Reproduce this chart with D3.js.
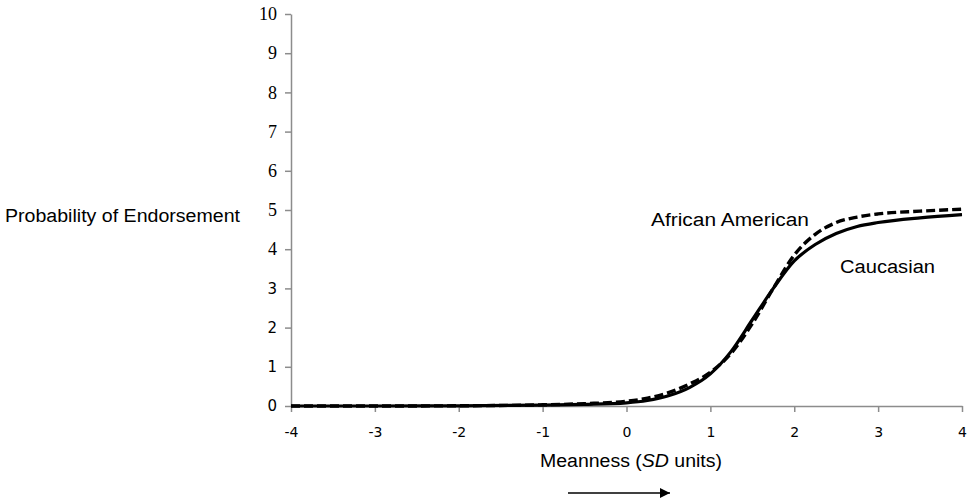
<!DOCTYPE html>
<html>
<head>
<meta charset="utf-8">
<script src="https://cdn.jsdelivr.net/npm/d3@7"></script>
<style>
html, body { margin: 0; padding: 0; background: #fff; }
svg { display: block; }
</style>
</head>
<body>
<svg id="chart" width="968" height="502"></svg>
<script>
// ---- data ----
const xTicks = [-4, -3, -2, -1, 0, 1, 2, 3, 4];
const yTicks = [0, 1, 2, 3, 4, 5, 6, 7, 8, 9, 10];
const meanness = [-4, -3, -2, -1, -0.5, 0, 0.25, 0.5, 0.75, 1, 1.25, 1.5, 1.75, 2, 2.25, 2.5, 2.75, 3, 3.5, 4];
const caucasian = [0, 0, 0.005, 0.02, 0.04, 0.08, 0.14, 0.26, 0.47, 0.82, 1.4, 2.2, 3.0, 3.7, 4.12, 4.4, 4.58, 4.68, 4.8, 4.88];
const africanAmerican = [0, 0, 0.005, 0.03, 0.06, 0.12, 0.2, 0.34, 0.56, 0.86, 1.35, 2.1, 3.0, 3.85, 4.38, 4.68, 4.82, 4.9, 4.97, 5.02];
const yTitle = "Probability of Endorsement";
const xTitleMain = "Meanness (";
const xTitleItalic = "SD";
const xTitleEnd = " units)";
const seriesLabels = ["African American", "Caucasian"];

// ---- layout ----
const svg = d3.select("#chart");
const x = d3.scaleLinear().domain([-4, 4]).range([291, 962]);
const y = d3.scaleLinear().domain([0, 10]).range([406, 14]);
const axisColor = "#8c8c8c";

// y axis
const yAxis = svg.append("g").attr("transform", "translate(291,0)")
  .call(d3.axisLeft(y).tickValues(yTicks).tickSize(6).tickSizeOuter(0).tickPadding(8).tickFormat(d3.format("d")));
yAxis.select(".domain").attr("stroke", axisColor).attr("stroke-width", 1.5);
yAxis.selectAll(".tick line").attr("stroke", axisColor).attr("stroke-width", 1.5);
yAxis.selectAll(".tick text")
  .attr("fill", "#000")
  .style("font-family", d => d >= 4 ? "'Liberation Serif', 'DejaVu Serif', serif" : "'DejaVu Sans', sans-serif")
  .style("font-size", d => d >= 4 ? "18px" : "15px");

// x axis
const xAxis = svg.append("g").attr("transform", "translate(0,406)")
  .call(d3.axisBottom(x).tickValues(xTicks).tickSize(6).tickSizeOuter(0).tickPadding(15).tickFormat(d3.format("d")));
xAxis.select(".domain").attr("stroke", axisColor).attr("stroke-width", 1.5);
xAxis.selectAll(".tick line").attr("stroke", axisColor).attr("stroke-width", 1.5);
xAxis.selectAll(".tick text")
  .attr("fill", "#000")
  .style("font-family", "'DejaVu Sans', sans-serif")
  .style("font-size", "14px")
  .text(d => d < 0 ? "-" + Math.abs(d) : String(d));

// curves
const line = d3.line().x(d => x(d[0])).y(d => y(d[1])).curve(d3.curveMonotoneX);
svg.append("path")
  .datum(meanness.map((m, i) => [m, caucasian[i]]))
  .attr("d", line).attr("fill", "none").attr("stroke", "#000").attr("stroke-width", 3.2);
svg.append("path")
  .datum(meanness.map((m, i) => [m, africanAmerican[i]]))
  .attr("d", line).attr("fill", "none").attr("stroke", "#000").attr("stroke-width", 3.4)
  .attr("stroke-dasharray", "9,4");

// labels
const sans = "'Liberation Sans', Arial, sans-serif";
svg.append("text").attr("x", 5).attr("y", 222)
  .attr("textLength", 235).attr("lengthAdjust", "spacingAndGlyphs")
  .style("font-family", sans).style("font-size", "18px").attr("fill", "#000").text(yTitle);
svg.append("text").attr("x", 651).attr("y", 226)
  .attr("textLength", 158).attr("lengthAdjust", "spacingAndGlyphs")
  .style("font-family", sans).style("font-size", "18px").attr("fill", "#000").text(seriesLabels[0]);
svg.append("text").attr("x", 840).attr("y", 273)
  .attr("textLength", 95).attr("lengthAdjust", "spacingAndGlyphs")
  .style("font-family", sans).style("font-size", "18px").attr("fill", "#000").text(seriesLabels[1]);

const xt = svg.append("text").attr("x", 540).attr("y", 467)
  .attr("textLength", 182).attr("lengthAdjust", "spacingAndGlyphs")
  .style("font-family", sans).style("font-size", "18px").attr("fill", "#000");
xt.append("tspan").text(xTitleMain);
xt.append("tspan").style("font-style", "italic").text(xTitleItalic);
xt.append("tspan").text(xTitleEnd);

// arrow
const defs = svg.append("defs");
defs.append("marker").attr("id", "arrow").attr("viewBox", "0 0 10 10")
  .attr("refX", 10).attr("refY", 5).attr("markerWidth", 12).attr("markerHeight", 10)
  .attr("markerUnits", "userSpaceOnUse").attr("orient", "auto")
  .append("path").attr("d", "M0,0 L10,5 L0,10 Z").attr("fill", "#000");
svg.append("line").attr("x1", 568).attr("y1", 493).attr("x2", 670).attr("y2", 493)
  .attr("stroke", "#000").attr("stroke-width", 1.5).attr("marker-end", "url(#arrow)");
</script>
</body>
</html>
